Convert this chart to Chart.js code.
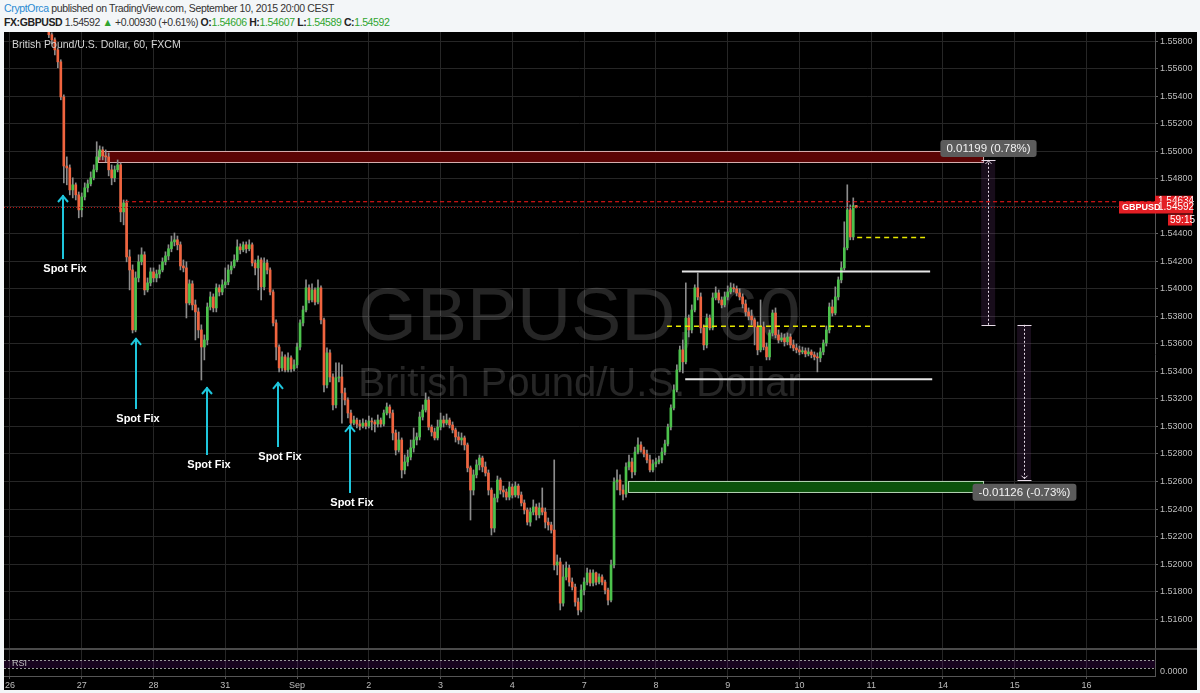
<!DOCTYPE html>
<html>
<head>
<meta charset="utf-8">
<script src="https://cdn.jsdelivr.net/npm/chart.js@4.4.0/dist/chart.umd.min.js"></script>
<style>
  html, body { margin: 0; padding: 0; }
  body {
    width: 1200px; height: 693px; position: relative; overflow: hidden;
    background: #f3f6f8; font-family: "Liberation Sans", Arial, sans-serif;
  }
  #hdr { position: absolute; left: 4px; top: 1px; line-height: 14px; color: #333; white-space: nowrap; }
  #hdr .l1 { font-size: 10.5px; letter-spacing: -0.35px; }
  #hdr .l2 { font-size: 10.5px; letter-spacing: -0.4px; }
  #hdr .author { color: #2a8ad2; }
  #hdr .up { color: #2fa52f; }
  #hdr b { color: #222; }
  #wrap { position: absolute; left: 4px; top: 32px; width: 1193px; height: 658px; background: #000; }
</style>
</head>
<body>
<div id="hdr">
  <div class="l1"><span class="author">CryptOrca</span> published on TradingView.com, September 10, 2015 20:00 CEST</div>
  <div class="l2"><b>FX:GBPUSD</b> 1.54592 <span class="up">&#9650;</span> +0.00930 (+0.61%) <b>O:</b><span class="up">1.54606</span> <b>H:</b><span class="up">1.54607</span> <b>L:</b><span class="up">1.54589</span> <b>C:</b><span class="up">1.54592</span></div>
</div>
<div id="wrap"><canvas id="chart" width="1193" height="658"></canvas></div>
<script>
// ---- axis data ----
const dayTicks = [0, 24, 48, 72, 96, 120, 144, 168, 192, 216, 240, 264, 288, 312, 336, 360];
const dayLabels = ['26', '27', '28', '31', 'Sep', '2', '3', '4', '7', '8', '9', '10', '11', '14', '15', '16'];
const priceTicks = [1.516, 1.518, 1.520, 1.522, 1.524, 1.526, 1.528, 1.530, 1.532, 1.534, 1.536,
  1.538, 1.540, 1.542, 1.544, 1.546, 1.548, 1.550, 1.552, 1.554, 1.556, 1.558];

// ---- hourly GBPUSD candles (hours counted from Aug 26 00:00, trading hours only) ----
const firstHour = 13;
const firstOpen = 1.5592;
const closes = [
  1.55848, 1.55811, 1.55738, 1.55651, 1.55396, 1.54894, 1.54880, 1.54720, 1.54757, 1.54684,
  1.54575, 1.54669, 1.54735, 1.54764, 1.54808, 1.54866, 1.54960, 1.55011, 1.54967, 1.54960,
  1.54866, 1.54808, 1.54866, 1.54902, 1.54560, 1.54625, 1.54233, 1.54138, 1.53702, 1.54080,
  1.54197, 1.54248, 1.53993, 1.54044, 1.54124, 1.54080, 1.54109, 1.54138, 1.54197, 1.54240,
  1.54292, 1.54342, 1.54357, 1.54321, 1.54167, 1.54153, 1.53898, 1.54037, 1.53884, 1.53833,
  1.53702, 1.53578, 1.53629, 1.53869, 1.53942, 1.53862, 1.54008, 1.53978, 1.54030, 1.54051,
  1.54138, 1.54167, 1.54211, 1.54306, 1.54284, 1.54321, 1.54292, 1.54321, 1.54189, 1.54153,
  1.54211, 1.54015, 1.54189, 1.54138, 1.53978, 1.53753, 1.53578, 1.53426, 1.53506, 1.53411,
  1.53499, 1.53419, 1.53448, 1.53578, 1.53753, 1.53847, 1.54008, 1.53920, 1.53993, 1.53905,
  1.54008, 1.53775, 1.53302, 1.53535, 1.53360, 1.53157, 1.53353, 1.53360, 1.53244, 1.53193,
  1.53098, 1.53025, 1.53047, 1.53018, 1.53003, 1.53025, 1.53003, 1.53040, 1.53033, 1.53018,
  1.53047, 1.53018, 1.53098, 1.53142, 1.53098, 1.52953, 1.52829, 1.52902, 1.52684, 1.52742,
  1.52778, 1.52844, 1.52902, 1.52924, 1.53069, 1.53120, 1.53193, 1.52996, 1.52960, 1.52917,
  1.52996, 1.53047, 1.53025, 1.53047, 1.53011, 1.52975, 1.52924, 1.52902, 1.52917, 1.52866,
  1.52699, 1.52538, 1.52648, 1.52721, 1.52771, 1.52706, 1.52662, 1.52538, 1.52262, 1.52480,
  1.52611, 1.52538, 1.52524, 1.52487, 1.52560, 1.52502, 1.52567, 1.52502, 1.52444, 1.52393,
  1.52305, 1.52378, 1.52415, 1.52357, 1.52408, 1.52378, 1.52305, 1.52284, 1.52247, 1.51993,
  1.52015, 1.51716, 1.51906, 1.51971, 1.51869, 1.51833, 1.51724, 1.51666, 1.51811, 1.51869,
  1.51935, 1.51862, 1.51935, 1.51869, 1.51906, 1.51869, 1.51811, 1.51738, 1.51993, 1.52597,
  1.52611, 1.52538, 1.52509, 1.52706, 1.52742, 1.52670, 1.52814, 1.52866, 1.52829, 1.52800,
  1.52757, 1.52684, 1.52728, 1.52742, 1.52757, 1.52814, 1.52873, 1.52996, 1.53135, 1.53266,
  1.53411, 1.53557, 1.53470, 1.53789, 1.53702, 1.53847, 1.54008, 1.53942, 1.53717, 1.53593,
  1.53789, 1.53717, 1.53935, 1.53971, 1.53920, 1.53884, 1.53942, 1.53978, 1.54008, 1.54001,
  1.53971, 1.53942, 1.53891, 1.53833, 1.53803, 1.53775, 1.53724, 1.53557, 1.53724, 1.53578,
  1.53506, 1.53680, 1.53825, 1.53666, 1.53629, 1.53644, 1.53615, 1.53651, 1.53593, 1.53571,
  1.53557, 1.53542, 1.53550, 1.53528, 1.53542, 1.53521, 1.53506, 1.53499, 1.53542, 1.53607,
  1.53702, 1.53869, 1.53825, 1.53942, 1.54066, 1.54153, 1.54299, 1.54575, 1.54378, 1.54606,
  1.54592
];
const highs = [
  1.55942, 1.55862, 1.55826, 1.55753, 1.55666, 1.55411, 1.54960, 1.54902, 1.54808, 1.54771,
  1.54705, 1.54698, 1.54771, 1.54793, 1.54851, 1.54902, 1.55070, 1.55040, 1.55033, 1.55011,
  1.54989, 1.54902, 1.54894, 1.54938, 1.54916, 1.54647, 1.54647, 1.54284, 1.54175, 1.54124,
  1.54248, 1.54299, 1.54270, 1.54080, 1.54153, 1.54153, 1.54138, 1.54175, 1.54226, 1.54270,
  1.54321, 1.54385, 1.54407, 1.54385, 1.54342, 1.54211, 1.54197, 1.54066, 1.54059, 1.53920,
  1.53862, 1.53739, 1.53666, 1.53898, 1.53978, 1.53964, 1.54037, 1.54030, 1.54066, 1.54153,
  1.54175, 1.54197, 1.54248, 1.54357, 1.54328, 1.54342, 1.54342, 1.54357, 1.54335, 1.54211,
  1.54240, 1.54226, 1.54226, 1.54211, 1.54153, 1.53993, 1.53775, 1.53593, 1.53542, 1.53521,
  1.53535, 1.53513, 1.53484, 1.53607, 1.53775, 1.53876, 1.54066, 1.54030, 1.54037, 1.54008,
  1.54066, 1.54022, 1.53789, 1.53571, 1.53557, 1.53382, 1.53462, 1.53462, 1.53448, 1.53280,
  1.53208, 1.53120, 1.53076, 1.53062, 1.53047, 1.53055, 1.53047, 1.53076, 1.53062, 1.53047,
  1.53084, 1.53062, 1.53120, 1.53171, 1.53157, 1.53120, 1.52975, 1.52960, 1.52917, 1.52793,
  1.52829, 1.52902, 1.52989, 1.52953, 1.53105, 1.53157, 1.53244, 1.53215, 1.53011, 1.52989,
  1.53047, 1.53098, 1.53076, 1.53091, 1.53062, 1.53033, 1.52989, 1.52960, 1.52953, 1.52931,
  1.52880, 1.52713, 1.52684, 1.52757, 1.52793, 1.52785, 1.52742, 1.52684, 1.52553, 1.52509,
  1.52640, 1.52626, 1.52567, 1.52546, 1.52597, 1.52582, 1.52597, 1.52582, 1.52524, 1.52466,
  1.52408, 1.52408, 1.52466, 1.52437, 1.52444, 1.52553, 1.52408, 1.52335, 1.52305, 1.52757,
  1.52066, 1.52044, 1.51993, 1.52015, 1.51993, 1.51899, 1.51855, 1.51753, 1.51848, 1.51899,
  1.51971, 1.51957, 1.51957, 1.51942, 1.51928, 1.51921, 1.51884, 1.51826, 1.52029, 1.52626,
  1.52684, 1.52648, 1.52575, 1.52735, 1.52793, 1.52771, 1.52851, 1.52917, 1.52888, 1.52851,
  1.52829, 1.52793, 1.52757, 1.52771, 1.52785, 1.52844, 1.52902, 1.53018, 1.53157, 1.53302,
  1.53448, 1.53585, 1.53629, 1.54044, 1.53811, 1.53884, 1.54030, 1.54116, 1.53971, 1.53739,
  1.53818, 1.53811, 1.53971, 1.54015, 1.53993, 1.53942, 1.53978, 1.54022, 1.54044, 1.54037,
  1.54022, 1.54001, 1.53964, 1.53920, 1.53862, 1.53847, 1.53789, 1.53760, 1.53920, 1.53760,
  1.53607, 1.53702, 1.53847, 1.53862, 1.53702, 1.53680, 1.53673, 1.53680, 1.53673, 1.53629,
  1.53600, 1.53585, 1.53578, 1.53571, 1.53571, 1.53557, 1.53542, 1.53535, 1.53571, 1.53629,
  1.53731, 1.53898, 1.53920, 1.54015, 1.54087, 1.54197, 1.54488, 1.54757, 1.54611, 1.54662,
  1.54607
];
const lows = [
  1.55826, 1.55782, 1.55702, 1.55608, 1.55375, 1.54771, 1.54757, 1.54684, 1.54662, 1.54647,
  1.54517, 1.54524, 1.54647, 1.54705, 1.54749, 1.54793, 1.54851, 1.54938, 1.54938, 1.54924,
  1.54822, 1.54757, 1.54779, 1.54851, 1.54488, 1.54466, 1.54197, 1.53993, 1.53680, 1.53688,
  1.54051, 1.54175, 1.53957, 1.53978, 1.54022, 1.54051, 1.54051, 1.54080, 1.54124, 1.54175,
  1.54211, 1.54270, 1.54313, 1.54284, 1.54138, 1.54124, 1.53789, 1.53884, 1.53847, 1.53629,
  1.53644, 1.53338, 1.53484, 1.53593, 1.53847, 1.53833, 1.53833, 1.53949, 1.53957, 1.54008,
  1.54030, 1.54109, 1.54153, 1.54197, 1.54255, 1.54270, 1.54262, 1.54277, 1.54167, 1.54102,
  1.53993, 1.53920, 1.53993, 1.54109, 1.53957, 1.53731, 1.53484, 1.53397, 1.53404, 1.53397,
  1.53397, 1.53397, 1.53404, 1.53426, 1.53557, 1.53731, 1.53833, 1.53898, 1.53905, 1.53884,
  1.53891, 1.53746, 1.53252, 1.53280, 1.53324, 1.53120, 1.53135, 1.53324, 1.53025, 1.53157,
  1.53062, 1.53003, 1.53011, 1.52989, 1.52975, 1.52989, 1.52982, 1.52989, 1.52975, 1.52960,
  1.52996, 1.52996, 1.53003, 1.53084, 1.53062, 1.52902, 1.52793, 1.52814, 1.52626, 1.52655,
  1.52713, 1.52757, 1.52814, 1.52866, 1.52902, 1.53047, 1.53105, 1.52975, 1.52931, 1.52902,
  1.52902, 1.52975, 1.52996, 1.53011, 1.52989, 1.52953, 1.52887, 1.52873, 1.52866, 1.52829,
  1.52670, 1.52320, 1.52502, 1.52626, 1.52684, 1.52670, 1.52640, 1.52502, 1.52211, 1.52232,
  1.52451, 1.52509, 1.52487, 1.52466, 1.52466, 1.52480, 1.52487, 1.52480, 1.52422, 1.52364,
  1.52284, 1.52276, 1.52357, 1.52320, 1.52335, 1.52357, 1.52262, 1.52247, 1.52225, 1.51957,
  1.51921, 1.51666, 1.51694, 1.51884, 1.51840, 1.51811, 1.51694, 1.51630, 1.51652, 1.51775,
  1.51848, 1.51840, 1.51840, 1.51848, 1.51855, 1.51848, 1.51782, 1.51702, 1.51724, 1.51971,
  1.52538, 1.52502, 1.52466, 1.52487, 1.52684, 1.52626, 1.52648, 1.52800, 1.52814, 1.52778,
  1.52735, 1.52670, 1.52670, 1.52706, 1.52728, 1.52735, 1.52793, 1.52858, 1.52975, 1.53120,
  1.53252, 1.53397, 1.53389, 1.53455, 1.53651, 1.53680, 1.53833, 1.53920, 1.53680, 1.53557,
  1.53571, 1.53702, 1.53702, 1.53920, 1.53898, 1.53862, 1.53869, 1.53920, 1.53964, 1.53978,
  1.53949, 1.53920, 1.53862, 1.53803, 1.53775, 1.53739, 1.53593, 1.53521, 1.53542, 1.53557,
  1.53484, 1.53484, 1.53658, 1.53644, 1.53607, 1.53615, 1.53585, 1.53593, 1.53571, 1.53550,
  1.53535, 1.53521, 1.53528, 1.53506, 1.53513, 1.53499, 1.53484, 1.53397, 1.53470, 1.53521,
  1.53585, 1.53680, 1.53803, 1.53811, 1.53920, 1.54044, 1.54138, 1.54284, 1.54357, 1.54357,
  1.54589
];

// ---- RSI, one reading every 6 hours from firstHour ----
const rsiStep = 6;
const rsiValues = [40, 22, 28, 45, 40, 35, 42, 52, 45, 40, 48, 55, 50, 35, 48, 52, 38, 35, 40, 45,
  40, 52, 45, 40, 45, 38, 42, 40, 38, 32, 35, 38, 62, 60, 58, 68, 72, 62, 64, 55,
  46, 44, 42, 45, 62, 72];
const rsiUpper = 70;
const rsiLower = 30;

// ---- drawings: [fromHour, toHour, top, bottom] / [fromHour, toHour, price] ----
const supplyZone = [29.4, 325.4, 1.55003, 1.54923];
const demandZone = [206.7, 325.4, 1.52604, 1.52524];
const rangeTop = [224.7, 307.7, 1.54127];
const rangeBottom = [225.8, 308.4, 1.53343];
const rangeMid = [219.7, 288.6, 1.53729];
const breakoutLevel = [283.3, 306.0, 1.54374];
const alertLevel = [38.5, 1.54634];
const measureHours = [327.1, 339.1];
const measureStart = [1.53739, 1.53739];
const measureEnd = [1.54938, 1.52613];
const spotFixHours = [17.7, 42.1, 65.9, 89.6, 113.7];
const spotFixTips = [1.54683, 1.53644, 1.53287, 1.53324, 1.53011];
const spotFixTails = [1.54218, 1.53127, 1.52793, 1.52851, 1.52517];

const symbolTitle = 'British Pound/U.S. Dollar, 60, FXCM';
const watermarkSymbol = 'GBPUSD, 60';
const watermarkName = 'British Pound/U.S. Dollar';
const barCountdown = '59:15';

const X_MIN = -2.0;
const X_MAX = 382.9;
const P_MIN = 1.51186;
const P_MAX = 1.55868;

const UP = '#4cc24c';
const DOWN = '#f0643f';
const FONT = '"Liberation Sans", Arial, sans-serif';

const opens = closes.map((c, i) => (i === 0 ? firstOpen : closes[i - 1]));
const bodies = closes.map((c, i) => ({ x: firstHour + i, y: [opens[i], c] }));
const wicks = closes.map((c, i) => ({
  x: firstHour + i,
  y: [Math.min(lows[i], opens[i], c), Math.max(highs[i], opens[i], c)]
}));
const bodyColors = closes.map((c, i) => (c >= opens[i] ? UP : DOWN));
const rsiPoints = rsiValues.map((v, i) => ({ x: firstHour + i * rsiStep, y: v }));
const lastClose = closes[closes.length - 1];

function segment(from, to, price) {
  return [{ x: from, y: price }, { x: to, y: price }];
}

function lineSet(data, color, width, dash) {
  return {
    type: 'line', data, yAxisID: 'y', borderColor: color, borderWidth: width,
    borderDash: dash || [], pointRadius: 0, order: 0
  };
}

function roundRect(ctx, x, y, w, h, r) {
  ctx.beginPath();
  ctx.moveTo(x + r, y);
  ctx.arcTo(x + w, y, x + w, y + h, r);
  ctx.arcTo(x + w, y + h, x, y + h, r);
  ctx.arcTo(x, y + h, x, y, r);
  ctx.arcTo(x, y, x + w, y, r);
  ctx.closePath();
}

const drawings = {
  id: 'drawings',
  beforeDraw(chart) {
    const { ctx, width, height } = chart;
    ctx.save();
    ctx.fillStyle = '#000';
    ctx.fillRect(0, 0, width, height);
    ctx.restore();
  },
  beforeDatasetsDraw(chart) {
    const { ctx, chartArea: a } = chart;
    const xs = chart.scales.x, ys = chart.scales.y, rs = chart.scales.rsi;
    ctx.save();

    // watermark
    const cx = (a.left + a.right) / 2;
    ctx.fillStyle = 'rgba(255,255,255,0.15)';
    ctx.textAlign = 'center';
    ctx.textBaseline = 'alphabetic';
    ctx.font = '75px ' + FONT;
    ctx.fillText(watermarkSymbol, cx, a.top + a.height * 0.478);
    ctx.font = '40px ' + FONT;
    ctx.fillText(watermarkName, cx, a.top + a.height * 0.565);

    // zones
    [[supplyZone, '#5a0404', '#d8b0b0'], [demandZone, '#0b520b', '#b8d8b8']].forEach(([z, fill, edge]) => {
      const x1 = xs.getPixelForValue(z[0]), x2 = xs.getPixelForValue(z[1]);
      const y1 = ys.getPixelForValue(z[2]), y2 = ys.getPixelForValue(z[3]);
      ctx.fillStyle = fill;
      ctx.fillRect(x1, y1, x2 - x1, y2 - y1);
      ctx.strokeStyle = edge;
      ctx.lineWidth = 1;
      ctx.strokeRect(x1 + 0.5, y1 + 0.5, x2 - x1, y2 - y1);
    });

    // measure backgrounds
    measureHours.forEach((h, i) => {
      const x = xs.getPixelForValue(h);
      const y1 = ys.getPixelForValue(measureStart[i]), y2 = ys.getPixelForValue(measureEnd[i]);
      ctx.fillStyle = 'rgba(150,80,170,0.16)';
      ctx.fillRect(x - 7, Math.min(y1, y2), 14, Math.abs(y2 - y1));
    });

    // RSI band
    const yu = rs.getPixelForValue(rsiUpper), yl = rs.getPixelForValue(rsiLower);
    ctx.fillStyle = 'rgba(110,20,140,0.22)';
    ctx.fillRect(a.left, yu, a.width, yl - yu);
    ctx.strokeStyle = '#9a9a9a';
    ctx.setLineDash([2, 2]);
    ctx.lineWidth = 1;
    [yu, yl].forEach(y => {
      ctx.beginPath();
      ctx.moveTo(a.left, Math.round(y) + 0.5);
      ctx.lineTo(a.right, Math.round(y) + 0.5);
      ctx.stroke();
    });
    ctx.restore();
  },
  afterDatasetsDraw(chart) {
    const { ctx, chartArea: a, width } = chart;
    const xs = chart.scales.x, ys = chart.scales.y, rs = chart.scales.rsi;
    ctx.save();

    // spot fix arrows
    ctx.strokeStyle = '#1ec6dc';
    ctx.lineWidth = 2;
    ctx.font = 'bold 11px ' + FONT;
    ctx.textAlign = 'center';
    ctx.textBaseline = 'middle';
    spotFixHours.forEach((h, i) => {
      const x = Math.round(xs.getPixelForValue(h));
      const yt = ys.getPixelForValue(spotFixTips[i]);
      const yb = ys.getPixelForValue(spotFixTails[i]);
      ctx.beginPath();
      ctx.moveTo(x, yb);
      ctx.lineTo(x, yt);
      ctx.stroke();
      ctx.beginPath();
      ctx.moveTo(x - 5, yt + 7);
      ctx.lineTo(x, yt + 1);
      ctx.lineTo(x + 5, yt + 7);
      ctx.stroke();
      ctx.fillStyle = '#ffffff';
      ctx.fillText('Spot Fix', x + 2, yb + 10);
    });

    // measure tools
    measureHours.forEach((h, i) => {
      const x = Math.round(xs.getPixelForValue(h)) + 0.5;
      const ys1 = ys.getPixelForValue(measureStart[i]);
      const ye = ys.getPixelForValue(measureEnd[i]);
      const dir = ye < ys1 ? -1 : 1;
      ctx.strokeStyle = '#e8dce8';
      ctx.lineWidth = 1;
      ctx.setLineDash([2, 2]);
      ctx.beginPath();
      ctx.moveTo(x, ys1);
      ctx.lineTo(x, ye);
      ctx.stroke();
      ctx.setLineDash([]);
      [ys1, ye].forEach(y => {
        ctx.beginPath();
        ctx.moveTo(x - 7, Math.round(y) + 0.5);
        ctx.lineTo(x + 7, Math.round(y) + 0.5);
        ctx.stroke();
      });
      ctx.beginPath();
      ctx.moveTo(x - 3, ye - dir * 4);
      ctx.lineTo(x, ye - dir);
      ctx.lineTo(x + 3, ye - dir * 4);
      ctx.stroke();

      const diff = measureEnd[i] - measureStart[i];
      const pct = diff / measureStart[i] * 100;
      const text = diff.toFixed(5) + ' (' + pct.toFixed(2) + '%)';
      ctx.font = '11.5px ' + FONT;
      const w = ctx.measureText(text).width + 12;
      const bh = 17;
      const by = dir < 0 ? ye - bh - 3 : ye + 4;
      ctx.fillStyle = '#5c5c5c';
      roundRect(ctx, x - w / 2, by, w, bh, 3);
      ctx.fill();
      ctx.fillStyle = '#f2f2f2';
      ctx.textAlign = 'center';
      ctx.textBaseline = 'middle';
      ctx.fillText(text, x, by + bh / 2 + 0.5);
    });

    // symbol title
    ctx.font = '10.5px ' + FONT;
    ctx.fillStyle = '#d4d4d4';
    ctx.textAlign = 'left';
    ctx.textBaseline = 'middle';
    ctx.fillText(symbolTitle, a.left + 8, a.top + 13);

    // RSI pane separator, caption, axis value
    const sepY = a.bottom - 28;
    ctx.fillStyle = '#4a4a4a';
    ctx.fillRect(0, sepY, width, 2);
    ctx.font = '9px ' + FONT;
    ctx.fillStyle = '#bdbdbd';
    ctx.fillText('RSI', a.left + 8, rs.getPixelForValue(50));
    ctx.fillText('0.0000', a.right + 5, a.bottom - 4);

    // right axis price labels
    const yAlert = ys.getPixelForValue(alertLevel[1]);
    const yLast = ys.getPixelForValue(lastClose);
    ctx.font = '10px ' + FONT;
    ctx.textAlign = 'left';
    ctx.fillStyle = '#e31e24';
    ctx.fillRect(a.right, yAlert - 6, 38, 12);
    ctx.fillStyle = '#fff';
    ctx.fillText(alertLevel[1].toFixed(5), a.right + 3, yAlert);
    ctx.fillStyle = '#e31e24';
    ctx.fillRect(a.right, yLast - 6, 38, 12);
    ctx.fillRect(a.right - 36, yLast - 6, 36, 12);
    ctx.fillRect(a.right + 13, yLast + 7, 24, 11);
    ctx.fillStyle = '#fff';
    ctx.fillText(lastClose.toFixed(5), a.right + 3, yLast);
    ctx.fillText(barCountdown, a.right + 15, yLast + 12.5);
    ctx.font = 'bold 9px ' + FONT;
    ctx.fillText('GBPUSD', a.right - 33, yLast);
    ctx.restore();
  }
};

Chart.defaults.font.family = FONT;

new Chart(document.getElementById('chart'), {
  type: 'bar',
  data: {
    datasets: [
      {
        type: 'bar', data: bodies, backgroundColor: bodyColors, barThickness: 2,
        minBarLength: 1, grouped: false, yAxisID: 'y', order: 1
      },
      {
        type: 'bar', data: wicks, backgroundColor: '#8c8c8c', barThickness: 1,
        grouped: false, yAxisID: 'y', order: 2
      },
      {
        type: 'line', data: rsiPoints, yAxisID: 'rsi', borderColor: '#b232d8',
        borderWidth: 1.4, pointRadius: 0, tension: 0.35, order: 0
      },
      lineSet(segment(X_MIN, X_MAX, lastClose), '#c01212', 1.2, [1, 2]),
      lineSet(segment(alertLevel[0], X_MAX, alertLevel[1]), '#ff1a1a', 1.2, [4, 3]),
      lineSet(segment(rangeTop[0], rangeTop[1], rangeTop[2]), '#e6e6e6', 2),
      lineSet(segment(rangeBottom[0], rangeBottom[1], rangeBottom[2]), '#e6e6e6', 2),
      lineSet(segment(rangeMid[0], rangeMid[1], rangeMid[2]), '#e8e800', 1.5, [5, 4]),
      lineSet(segment(breakoutLevel[0], breakoutLevel[1], breakoutLevel[2]), '#e8e800', 1.5, [5, 4])
    ]
  },
  options: {
    responsive: false,
    animation: false,
    devicePixelRatio: 1,
    events: [],
    layout: { padding: 0 },
    plugins: { legend: { display: false }, tooltip: { enabled: false } },
    scales: {
      x: {
        type: 'linear',
        min: X_MIN,
        max: X_MAX,
        offset: false,
        afterBuildTicks: axis => { axis.ticks = dayTicks.map(v => ({ value: v })); },
        afterFit: axis => {
          axis.height = 14;
          axis.paddingLeft = 0;
          axis.paddingRight = 0;
        },
        grid: { color: '#262626', offset: false, tickLength: 3, tickColor: '#555' },
        border: { color: '#555' },
        ticks: {
          color: '#bdbdbd', font: { size: 9 }, padding: 1, maxRotation: 0, autoSkip: false,
          callback: (v, i) => dayLabels[i]
        }
      },
      y: {
        position: 'right',
        min: P_MIN,
        max: P_MAX,
        afterBuildTicks: axis => { axis.ticks = priceTicks.map(v => ({ value: v })); },
        afterFit: axis => {
          axis.width = 42;
          axis.paddingTop = 0;
          axis.paddingBottom = 0;
        },
        grid: { color: '#262626', tickLength: 3, tickColor: '#666' },
        border: { color: '#555' },
        ticks: {
          color: '#bdbdbd', font: { size: 9 }, padding: 2,
          callback: v => v.toFixed(5)
        }
      },
      rsi: { type: 'linear', display: false, min: -10, max: 3210 }
    }
  },
  plugins: [drawings]
});
</script>
</body>
</html>
